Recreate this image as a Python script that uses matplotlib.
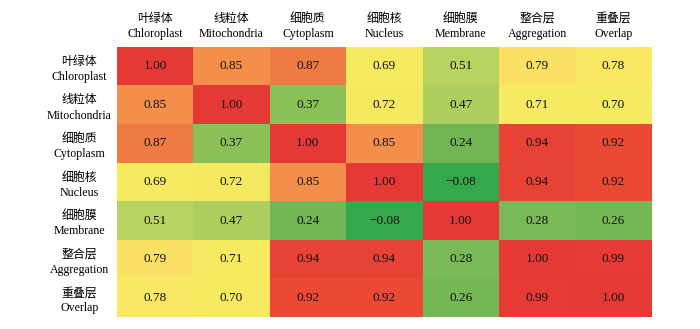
import numpy as np
import matplotlib
matplotlib.use("Agg")
import matplotlib.pyplot as plt
from matplotlib.colors import LinearSegmentedColormap, Normalize

plt.rcParams['font.family'] = ['Liberation Serif', 'Noto Sans CJK SC']
plt.rcParams['axes.unicode_minus'] = True

labels_cn = ["叶绿体", "线粒体", "细胞质", "细胞核", "细胞膜", "整合层", "重叠层"]
labels_en = ["Chloroplast", "Mitochondria", "Cytoplasm", "Nucleus", "Membrane", "Aggregation", "Overlap"]

corr = np.array([
    [1.00, 0.85, 0.87, 0.69, 0.51, 0.79, 0.78],
    [0.85, 1.00, 0.37, 0.72, 0.47, 0.71, 0.70],
    [0.87, 0.37, 1.00, 0.85, 0.24, 0.94, 0.92],
    [0.69, 0.72, 0.85, 1.00, -0.08, 0.94, 0.92],
    [0.51, 0.47, 0.24, -0.08, 1.00, 0.28, 0.26],
    [0.79, 0.71, 0.94, 0.94, 0.28, 1.00, 0.99],
    [0.78, 0.70, 0.92, 0.92, 0.26, 0.99, 1.00],
])

vmin, vmax = -0.08, 1.0
# colour anchors
anchors = [(-0.08, "#36a84c"), (0.24, "#74b655"), (0.28, "#7ab957"),
           (0.37, "#8cc159"), (0.47, "#aecf5f"), (0.51, "#b9d460"),
           (0.69, "#f5ea60"), (0.72, "#f6ea62"), (0.78, "#fbe765"),
           (0.79, "#fbe565"), (0.85, "#f4914b"), (0.87, "#ef7d45"),
           (0.92, "#ea4b36"), (0.94, "#e84335"), (1.00, "#e53935")]
cmap = LinearSegmentedColormap.from_list(
    "corr", [((v - vmin) / (vmax - vmin), c) for v, c in anchors])

fig = plt.figure(figsize=(7, 3.29), dpi=100)
ax = fig.add_axes([0.167, 0.0365, 0.764, 0.8205])
ax.imshow(corr, cmap=cmap, norm=Normalize(vmin, vmax), aspect='auto',
          interpolation='nearest')

n = len(labels_en)
for i in range(n):
    for j in range(n):
        txt = f"{corr[i, j]:.2f}".replace("-", "\u2212")
        ax.text(j, i, txt, ha='center', va='center', fontsize=9.5, color='#111111')

tick_labels = [f"{c}\n{e}" for c, e in zip(labels_cn, labels_en)]
ax.set_xticks(range(n))
ax.set_yticks(range(n))
ax.xaxis.tick_top()
ax.set_xticklabels(tick_labels, fontsize=8.6, linespacing=1.35)
ax.set_yticklabels(tick_labels, fontsize=8.6, linespacing=1.35,
                   ha='center', multialignment='center')
ax.tick_params(axis='x', length=0, pad=5)
ax.tick_params(axis='y', length=0, pad=27)
for s in ax.spines.values():
    s.set_visible(False)

fig.savefig("out.png", dpi=100)
